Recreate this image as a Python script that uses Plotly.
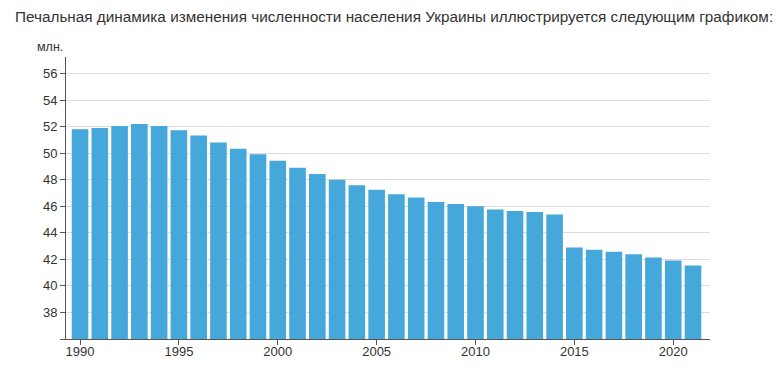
import plotly.graph_objects as go

title_text = "Печальная динамика изменения численности населения Украины иллюстрируется следующим графиком:"
unit_label = "млн."
years = list(range(1990, 2022))
population = [51.8, 51.9, 52.05, 52.2, 52.05, 51.73, 51.33, 50.8, 50.33, 49.93,
              49.43, 48.9, 48.43, 48.0, 47.58, 47.24, 46.91, 46.66, 46.33, 46.18,
              46.0, 45.75, 45.65, 45.57, 45.39, 42.89, 42.73, 42.58, 42.38, 42.15,
              41.92, 41.54]
y_tick_values = [36, 38, 40, 42, 44, 46, 48, 50, 52, 54, 56]
y_tick_labels = ["", "38", "40", "42", "44", "46", "48", "50", "52", "54", "56"]
x_tick_values = [1990, 1995, 2000, 2005, 2010, 2015, 2020]

# page body has an 8px margin; the figure is sized to fit inside the 783x368 window
OFF = 8
W, H = 783 - 2 * OFF, 368 - 2 * OFF
L, T = 66 - OFF, 57 - OFF
R = W - (710 - OFF)
B = H - (339 - OFF)
pw = W - L - R
ph = H - T - B

fig = go.Figure(go.Bar(x=years, y=population, marker=dict(color="#45a7da", line=dict(width=0))))

font_family = "Liberation Sans, Arial, sans-serif"
fig.update_layout(
    width=W, height=H,
    margin=dict(l=L, r=R, t=T, b=B, pad=0, autoexpand=False),
    plot_bgcolor="white", paper_bgcolor="white",
    bargap=0.16,
    showlegend=False,
    font=dict(family=font_family, size=13, color="#333"),
    xaxis=dict(
        range=[1989.29, 2021.86],
        tickvals=x_tick_values,
        ticks="outside", ticklen=5, tickcolor="#555", tickwidth=1,
        ticklabelstandoff=-5,
        showline=True, linecolor="#555", linewidth=1,
        showgrid=False, zeroline=False,
        tickfont=dict(size=13, color="#333"),
    ),
    yaxis=dict(
        range=[36, 57.25],
        tickvals=y_tick_values, ticktext=y_tick_labels,
        ticks="outside", ticklen=5, tickcolor="#555", tickwidth=1,
        showline=True, linecolor="#555", linewidth=1,
        showgrid=True, gridcolor="#dcdcdc", gridwidth=1,
        zeroline=False,
        tickfont=dict(size=13, color="#333"),
    ),
)

def px_to_paper_x(px):
    return (px - OFF - L) / pw

def px_to_paper_y(py):
    return (H - B - (py - OFF)) / ph

fig.add_annotation(
    text=title_text, showarrow=False,
    xref="paper", yref="paper",
    x=px_to_paper_x(13), y=px_to_paper_y(16),
    xanchor="left", yanchor="middle",
    font=dict(family=font_family, size=15.3, color="#333"),
)
fig.add_annotation(
    text=unit_label, showarrow=False,
    xref="paper", yref="paper",
    x=px_to_paper_x(35), y=px_to_paper_y(47),
    xanchor="left", yanchor="middle",
    font=dict(family=font_family, size=12.5, color="#333"),
)

fig.write_html("out.html")
